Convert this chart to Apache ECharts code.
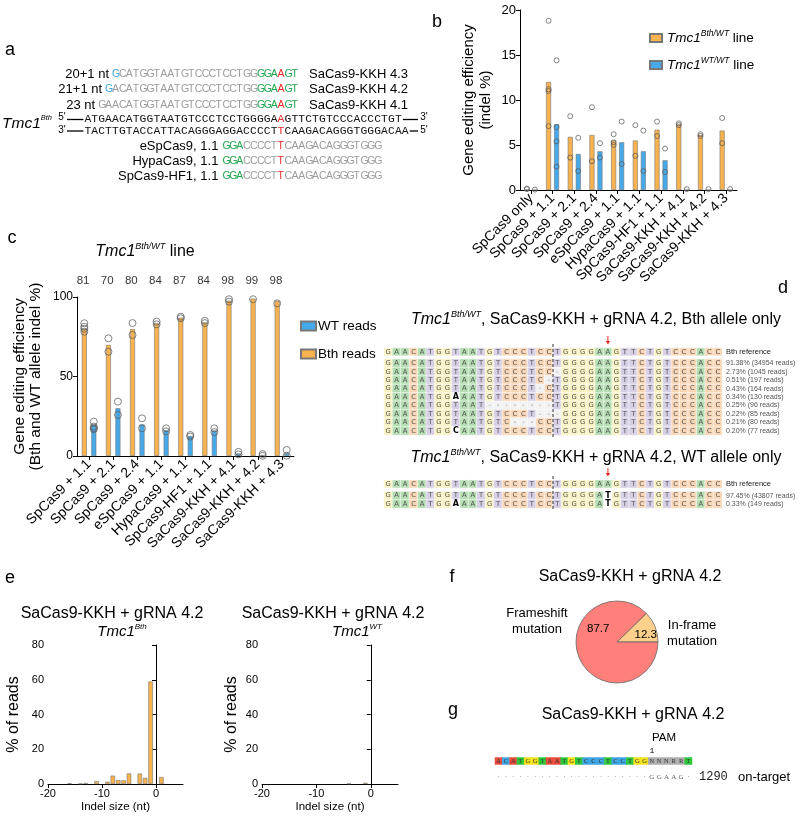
<!DOCTYPE html>
<html>
<head>
<meta charset="utf-8">
<script src="https://cdn.jsdelivr.net/npm/echarts@6.0.0/dist/echarts.min.js"></script>
<style>
html,body{margin:0;padding:0;background:#fff;}
#main{width:800px;height:818px;}
</style>
</head>
<body>
<div id="main"></div>
<script>
// ================= DATA =================
// panel a (sequence annotations)
const aGuideLengths = ['20+1 nt', '21+1 nt', '23 nt'];
const aGuideNames = ['SaCas9-KKH 4.3', 'SaCas9-KKH 4.2', 'SaCas9-KKH 4.1'];
const aGuideSeqs = [
  [['G','b'],['CATGGTAATGTCCCTCCTGG','g'],['GGA','gr'],['A','r'],['GT','gr']],
  [['G','b'],['ACATGGTAATGTCCCTCCTGG','g'],['GGA','gr'],['A','r'],['GT','gr']],
  [['GAACATGGTAATGTCCCTCCTGG','g'],['GGA','gr'],['A','r'],['GT','gr']]
];
const aTopStrand = [['ATGAACATGGTAATGTCCCTCCTGGGGA','k'],['A','r'],['GTTCTGTCCCACCCTGT','k']];
const aBottomStrand = [['TACTTGTACCATTACAGGGAGGACCCCT','k'],['T','r'],['CAAGACAGGGTGGGACAA','k']];
const aSpNames = ['eSpCas9, 1.1', 'HypaCas9, 1.1', 'SpCas9-HF1, 1.1'];
const aSpSeq = [['GGA','gr'],['CCCCT','g'],['T','r'],['CAAGACAGGGTGGG','g']];

// panel b
const bCategories = ['SpCas9 only','SpCas9 + 1.1','SpCas9 + 2.1','SpCas9 + 2.4','eSpCas9 + 1.1','HypaCas9 + 1.1','SpCas9-HF1 + 1.1','SaCas9-KKH + 4.1','SaCas9-KKH + 4.2','SaCas9-KKH + 4.3'];
const bBthMean = [0, 12.0, 5.9, 6.1, 5.5, 5.5, 6.7, 7.3, 6.1, 6.6];
const bWTMean  = [0, 7.3, 4.0, 4.3, 5.3, 4.3, 3.3, 0, 0, 0];
const bBthPoints = [[0.1,0.15],[18.8,11.2,11.0,7.1],[8.2,3.6],[9.2,3.2],[6.2,5.3,5.0],[7.2,3.8],[7.6,6.0],[7.4,7.2],[6.2,6.0],[8.0,5.2]];
const bWTPoints  = [[0.05],[14.4,7.0,5.4,2.6],[5.8,2.1],[5.2,3.6],[7.6,2.9],[6.6,2.1],[4.6,2.0],[0.1],[0.1],[0.1]];

// panel c
const cCategories = ['SpCas9 + 1.1','SpCas9 + 2.1','SpCas9 + 2.4','eSpCas9 + 1.1','HypaCas9 + 1.1','SpCas9-HF1 + 1.1','SaCas9-KKH + 4.1','SaCas9-KKH + 4.2','SaCas9-KKH + 4.3'];
const cBthMean = [80, 69.8, 79.8, 83.6, 87, 84, 97.6, 99, 97.5];
const cWTMean  = [19.5, 30, 19.8, 16.2, 12.6, 16, 1.6, 0.6, 1.5];
const cBthPoints = [[83.5,81.3,80,78.2],[74,65.6],[83.6,76.1],[84.5,82.8],[87.6,86.6],[85.1,83.6],[98.6,97.1],[100.2,98.6],[100.2,96]];
const cWTPoints  = [[21.6,18.5,17.5,16.8],[34.2,25.8],[23.7,17.4],[17.4,15.5],[13.2,12.2],[17.4,15],[2.6,1],[1.2,0.1],[3.8,0.2]];
const cTopLabels = ['81','70','80','84','87','84','98','99','98'];

// panel d
const dRefSeq = 'GAACATGGTAATGTCCCTCCTGGGGAAGTTCTGTCCCACC';
const dBthReads = [
  'GAACATGGTAATGTCCCTCCTGGGGAAGTTCTGTCCCACC',
  'GAACATGGTAATGTCCCTCC-GGGGAAGTTCTGTCCCACC',
  'GAACATGGTAATGTCCCTC-TGGGGAAGTTCTGTCCCACC',
  'GAACATGGTAATGTCCCT-CTGGGGAAGTTCTGTCCCACC',
  'GAACATGGaAATGTCCCTCCTGGGGAAGTTCTGTCCCACC',
  'GAACATGGTAAT--------TGGGGAAGTTCTGTCCCACC',
  'GAACATGGTAATGTCCCT---GGGGAAGTTCTGTCCCACC',
  'GAACATGGTAATGTC---CCTGGGGAAGTTCTGTCCCACC',
  'GAACATGGcAATGTCCCTCCTGGGGAAGTTCTGTCCCACC'
];
const dBthLabels = ['91.38% (34954 reads)','2.73% (1045 reads)','0.51% (197 reads)','0.43% (164 reads)','0.34% (130 reads)','0.25% (96 reads)','0.22% (85 reads)','0.21% (80 reads)','0.20% (77 reads)'];
const dWTReads = [
  'GAACATGGTAATGTCCCTCCTGGGGAtGTTCTGTCCCACC',
  'GAACATGGaAATGTCCCTCCTGGGGAtGTTCTGTCCCACC'
];
const dWTLabels = ['97.45% (43807 reads)','0.33% (149 reads)'];
const dRefLabel = 'Bth reference';

// panel e
const eBthIndel = [-16,-14,-13,-11,-9,-8,-7,-6,-5,-3,-2,-1,1];
const eBthPct   = [0.5,0.3,0.6,1.7,1.3,4.8,2.3,2.1,6.1,6.0,3.5,59,4.0];
const eWTIndel = [-4,-1];
const eWTPct   = [0.3,0.7];
const eTicks = [-20,-10,0];

// panel f
const fNames = ['In-frame mutation','Frameshift mutation'];
const fValues = [12.3, 87.7];

// panel g
const gGuide = 'ACATGGTAATGTCCCTCCTGGNNNRRT';
const gRead  = '.....................GGAAG.';
const gCount = '1290';
const gTag = 'on-target';

// ================= STYLE / BUILD =================
const SANS = 'Liberation Sans';
const MONO = 'Liberation Mono';
const ORANGE = '#F8B34F';
const BLUE = '#46A9E9';
const EDGE = '#777';
const BLACK_LINE = {show:true, lineStyle:{color:'#000', width:1}};
const TICK = {show:true, length:4, lineStyle:{color:'#000', width:1}};

const P = 6.9, XRED = 281;
function richStr(segs){ return segs.map(([s,k]) => s.split('').map(c => '{'+k+'|'+c+'}').join('')).join(''); }
function redIndex(segs){ let n=0; for (const [s,k] of segs){ if (k==='r') return n; n+=s.length; } return 0; }
function segLen(segs){ return segs.reduce((a,[s]) => a+s.length, 0); }
const richSans = {
  g:{fill:'#9c9c9c', fontSize:10.5, fontFamily:SANS, width:P},
  gr:{fill:'#1fa84f', fontSize:10.5, fontFamily:SANS, width:P},
  r:{fill:'#ee2a2a', fontSize:10.5, fontFamily:SANS, width:P},
  b:{fill:'#3ba3df', fontSize:10.5, fontFamily:SANS, width:P}
};
const richMono = {
  k:{fill:'#111', fontSize:11.3, fontFamily:MONO, width:P},
  r:{fill:'#ee2a2a', fontSize:11.3, fontFamily:MONO, width:P}
};
function txt(x, y, text, size, extra){
  return {type:'text', x, y, silent:true, z:50, style:Object.assign({
    text, fontSize:size, fontFamily:SANS, fill:'#000',
    align:'center', verticalAlign:'middle', textAlign:'center', textVerticalAlign:'middle'
  }, extra||{})};
}
function seqEl(segs, y, rich){
  const x0 = XRED - redIndex(segs)*P - 3.4;
  return {x0, x1: x0 + segLen(segs)*P, el: {type:'text', x:x0, y, silent:true, style:{
    text: richStr(segs), rich, align:'left', verticalAlign:'middle', textAlign:'left', textVerticalAlign:'middle'}}};
}
function line(x1,y1,x2,y2,color,dash,w){
  return {type:'line', silent:true, z:50, shape:{x1,y1,x2,y2}, style:{stroke:color||'#000', lineWidth:w||1, lineDash:dash||null}};
}
function supText(x, y, main, sup, rest, size, supSize, align){
  return {type:'text', x, y, silent:true, z:50, style:{
    text: '{i|'+main+'}{s|'+sup+'}' + (rest ? '{n|'+rest+'}' : ''),
    align: align||'center', textAlign: align||'center', verticalAlign:'middle', textVerticalAlign:'middle',
    rich:{
      i:{fontStyle:'italic', fontSize:size, fontFamily:SANS, fill:'#000', lineHeight:size+4},
      s:{fontStyle:'italic', fontSize:supSize, fontFamily:SANS, fill:'#000', verticalAlign:'top'},
      n:{fontSize:size, fontFamily:SANS, fill:'#000', lineHeight:size+4}
    }}};
}

const graphics = [];
// panel letters
[['a',10,50],['b',437,22],['c',12,238],['d',783,288],['e',10,578],['f',452,577],['g',453,710]].forEach(([t,x,y]) => graphics.push(txt(x,y,t,18)));

// panel a
const aY = [74, 89.5, 105];
aGuideSeqs.forEach((segs, i) => {
  const s = seqEl(segs, aY[i], richSans);
  graphics.push(s.el);
  graphics.push(txt(s.x0 - 3, aY[i], aGuideLengths[i], 13, {align:'right', textAlign:'right'}));
  graphics.push(txt(309, aY[i], aGuideNames[i], 13, {align:'left', textAlign:'left'}));
});
const top5 = seqEl(aTopStrand, 119.5, richMono);
const bot3 = seqEl(aBottomStrand, 131, richMono);
graphics.push(top5.el, bot3.el);
graphics.push(supText(2, 124, 'Tmc1', 'Bth', '', 15.5, 7.5, 'left'));
graphics.push(txt(62, 117, "5'", 10));
graphics.push(txt(62, 130, "3'", 10));
graphics.push(line(67, 119.5, top5.x0 - 1, 119.5, '#000', null, 1.3));
graphics.push(line(67, 131, bot3.x0 - 1, 131, '#000', null, 1.3));
graphics.push(line(top5.x1 + 1, 119.5, 418, 119.5, '#000', null, 1.3));
graphics.push(txt(424, 117, "3'", 10));
graphics.push(line(bot3.x1 + 1, 131, 418, 131, '#000', null, 1.3));
graphics.push(txt(424, 130, "5'", 10));
const aSpY = [146.5, 161.5, 176.5];
aSpNames.forEach((n, i) => {
  const s = seqEl(aSpSeq, aSpY[i], richSans);
  graphics.push(s.el);
  graphics.push(txt(s.x0 - 4, aSpY[i], n, 13, {align:'right', textAlign:'right'}));
});

// panel c title
graphics.push(supText(145, 252, 'Tmc1', 'Bth/WT', ' line', 16, 9));
// panel d titles, cut lines & arrows
graphics.push(supText(596, 320, 'Tmc1', 'Bth/WT', ', SaCas9-KKH + gRNA 4.2, Bth allele only', 16, 9));
graphics.push(supText(596, 458, 'Tmc1', 'Bth/WT', ', SaCas9-KKH + gRNA 4.2, WT allele only', 16, 9));
const D_LEFT = 384, D_W = 338, D_CELL = D_W / dRefSeq.length;
const cutX = D_LEFT + 20 * D_CELL, arrowX = D_LEFT + 26.5 * D_CELL;
graphics.push(line(cutX, 344, cutX, 438, '#333', [3,2], 1));
graphics.push(line(cutX, 476, cutX, 510, '#333', [3,2], 1));
[336, 468].forEach(y0 => {
  graphics.push(line(arrowX, y0, arrowX, y0 + 7, '#e8261f', null, 1));
  graphics.push({type:'polygon', silent:true, z:50, shape:{points:[[arrowX-2.2,y0+5],[arrowX+2.2,y0+5],[arrowX,y0+8.5]]}, style:{fill:'#e8261f'}});
});
// panel e titles
graphics.push(txt(112, 614, 'SaCas9-KKH + gRNA 4.2', 16));
graphics.push(supText(122, 632, 'Tmc1', 'Bth', '', 15, 8));
graphics.push(txt(333, 614, 'SaCas9-KKH + gRNA 4.2', 16));
graphics.push(supText(357, 632, 'Tmc1', 'WT', '', 15, 8));
// panel f
graphics.push(txt(630, 577, 'SaCas9-KKH + gRNA 4.2', 16));
graphics.push(txt(537, 621, 'Frameshift\nmutation', 13, {lineHeight:16}));
graphics.push(txt(692, 633, 'In-frame\nmutation', 13, {lineHeight:16}));
// panel g
graphics.push(txt(633, 715, 'SaCas9-KKH + gRNA 4.2', 16));
graphics.push(txt(664, 738, 'PAM', 11.5));
const G_LEFT = 495, G_W = 197, G_CELL = G_W / gGuide.length;
graphics.push(txt(G_LEFT + 21.5 * G_CELL, 751, '1', 8, {fontFamily:MONO}));
graphics.push(txt(699, 777, gCount, 12, {align:'left', textAlign:'left', fontFamily:MONO, fill:'#222'}));
graphics.push(txt(738, 777, gTag, 13, {align:'left', textAlign:'left'}));

// ---- grids
const grids = [
  {left:520, top:10, width:217, height:180},        // 0 b
  {left:77, top:297, width:217, height:159},        // 1 c
  {left:48, top:645, width:135, height:139},        // 2 e left
  {left:262, top:645, width:136, height:139},       // 3 e right
  {left:D_LEFT, top:348, width:D_W, height:7.6},    // 4 d Bth ref
  {left:D_LEFT, top:359.1, width:D_W, height:75.9}, // 5 d Bth reads
  {left:D_LEFT, top:480.2, width:D_W, height:7.6},  // 6 d WT ref
  {left:D_LEFT, top:491.6, width:D_W, height:16.4}, // 7 d WT reads
  {left:G_LEFT, top:757.5, width:G_W, height:7},    // 8 g guide
  {left:G_LEFT, top:773, width:G_W, height:8}       // 9 g read
];

const idx = n => Array.from({length:n}, (_, i) => String(i));
const hiddenCat = (g, n) => ({type:'category', gridIndex:g, data:idx(n), show:false});
const catLabel = {interval:0, rotate:45, fontSize:14, fontFamily:SANS, color:'#000', margin:6};

const xAxis = [
  {type:'category', gridIndex:0, data:bCategories, axisLine:BLACK_LINE, axisTick:Object.assign({alignWithLabel:true}, TICK), axisLabel:catLabel},
  {type:'category', gridIndex:1, data:cCategories, axisLine:BLACK_LINE, axisTick:Object.assign({alignWithLabel:true}, TICK), axisLabel:catLabel},
  {type:'value', gridIndex:2, min:-20, max:5, interval:10, axisLine:BLACK_LINE, axisTick:Object.assign({customValues:eTicks}, TICK),
    axisLabel:{customValues:eTicks, fontSize:11, fontFamily:SANS, color:'#000', margin:4, formatter:v => (v===5?'':String(v))}, splitLine:{show:false},
    name:'Indel size (nt)', nameLocation:'middle', nameGap:17, nameTextStyle:{fontSize:11.5, fontFamily:SANS, color:'#000'}},
  {type:'value', gridIndex:3, min:-20, max:5, interval:10, axisLine:BLACK_LINE, axisTick:Object.assign({customValues:eTicks}, TICK),
    axisLabel:{customValues:eTicks, fontSize:11, fontFamily:SANS, color:'#000', margin:4, formatter:v => (v===5?'':String(v))}, splitLine:{show:false},
    name:'Indel size (nt)', nameLocation:'middle', nameGap:17, nameTextStyle:{fontSize:11.5, fontFamily:SANS, color:'#000'}},
  hiddenCat(4, 40), hiddenCat(5, 40), hiddenCat(6, 40), hiddenCat(7, 40),
  hiddenCat(8, gGuide.length), hiddenCat(9, gRead.length)
];
const valY = (g, max, interval, name, gap, size, lh, labelSize) => ({
  type:'value', gridIndex:g, min:0, max, interval, axisLine:BLACK_LINE, axisTick:TICK, splitLine:{show:false},
  axisLabel:{fontSize:labelSize, fontFamily:SANS, color:'#000', margin:4},
  name, nameLocation:'middle', nameGap:gap, nameTextStyle:{fontSize:size, fontFamily:SANS, color:'#000', lineHeight:lh}
});
const rowY = (g, labels, size, color) => ({
  type:'category', gridIndex:g, data:labels, inverse:true, position:'right',
  axisLine:{show:false}, axisTick:{show:false},
  axisLabel:{interval:0, fontSize:size, fontFamily:SANS, color, margin:4}
});
const yAxis = [
  valY(0, 20, 5, 'Gene editing efficiency\n(indel %)', 26, 15, 17, 13),
  valY(1, 100, 50, 'Gene editing efficiency\n(Bth and WT allele indel %)', 33, 15.5, 16.5, 12),
  valY(2, 80, 20, '% of reads', 25, 16, 18, 11),
  valY(3, 80, 20, '% of reads', 21, 16, 18, 11),
  rowY(4, [dRefLabel], 7.5, '#222'),
  rowY(5, dBthLabels, 7, '#555'),
  rowY(6, [dRefLabel], 7.5, '#222'),
  rowY(7, dWTLabels, 7, '#555'),
  {type:'category', gridIndex:8, data:[''], show:false},
  {type:'category', gridIndex:9, data:[''], show:false}
];

// ---- series
const series = [];
const barStyle = c => ({color:c, borderColor:EDGE, borderWidth:0.6});
const pointStyle = {color:'rgba(255,255,255,0)', borderColor:'#555', borderWidth:0.9};
function pts(arr){ const out=[]; arr.forEach((vals,i) => vals.forEach(v => out.push([i, v]))); return out; }

// b
series.push({name:'bBth', type:'bar', xAxisIndex:0, yAxisIndex:0, data:bBthMean, barWidth:5, barGap:'60%', itemStyle:barStyle(ORANGE)});
series.push({name:'bWT', type:'bar', xAxisIndex:0, yAxisIndex:0, data:bWTMean, barWidth:5, itemStyle:barStyle(BLUE)});
series.push({name:'bBthPts', type:'scatter', xAxisIndex:0, yAxisIndex:0, data:pts(bBthPoints), symbol:'circle', symbolSize:5, symbolOffset:[-4,0], itemStyle:pointStyle, z:5});
series.push({name:'bWTPts', type:'scatter', xAxisIndex:0, yAxisIndex:0, data:pts(bWTPoints), symbol:'circle', symbolSize:5, symbolOffset:[4,0], itemStyle:pointStyle, z:5});
// c  (Bth bars on the left, WT bars on the right)
series.push({name:'Bth reads', type:'bar', xAxisIndex:1, yAxisIndex:1, data:cBthMean, barWidth:5, barGap:'90%', itemStyle:barStyle(ORANGE)});
series.push({name:'WT reads', type:'bar', xAxisIndex:1, yAxisIndex:1, data:cWTMean, barWidth:5, itemStyle:barStyle(BLUE)});
series.push({name:'cBthPts', type:'scatter', xAxisIndex:1, yAxisIndex:1, data:pts(cBthPoints), symbolSize:7, symbolOffset:[-4.75,0], itemStyle:pointStyle, z:5});
series.push({name:'cWTPts', type:'scatter', xAxisIndex:1, yAxisIndex:1, data:pts(cWTPoints), symbolSize:7, symbolOffset:[4.75,0], itemStyle:pointStyle, z:5});
series.push({name:'cTop', type:'scatter', xAxisIndex:1, yAxisIndex:1, data:cTopLabels.map((t,i) => ({value:[i,100], name:t})), symbolSize:1,
  itemStyle:{color:'rgba(0,0,0,0)'}, label:{show:true, position:'top', distance:10, offset:[-6,0], formatter:'{b}', fontSize:11.5, fontFamily:SANS, color:'#000'}, silent:true});
// e
series.push({name:'eBth', type:'bar', xAxisIndex:2, yAxisIndex:2, data:eBthIndel.map((x,i) => [x, eBthPct[i]]), barWidth:4.5, itemStyle:barStyle(ORANGE)});
series.push({name:'eWT', type:'bar', xAxisIndex:3, yAxisIndex:3, data:eWTIndel.map((x,i) => [x, eWTPct[i]]), barWidth:4.5, itemStyle:barStyle(ORANGE)});
// f
const fColors = ['#FDD08C', '#FF7F7A'];
const fLabelOffsets = [[7,2],[3,-22]];
series.push({name:'fPie', type:'pie', center:[617,642], radius:41, startAngle:44.28, clockwise:true, silent:true,
  data:fNames.map((n,i) => ({name:n, value:fValues[i], itemStyle:{color:fColors[i]}, label:{offset:fLabelOffsets[i]}})),
  itemStyle:{borderColor:'#666', borderWidth:0.8},
  label:{show:true, position:'inside', formatter:'{c}', fontSize:11.5, fontFamily:SANS, color:'#000'},
  labelLine:{show:false}, emphasis:{disabled:true}});
// d heatmaps
const dColors = {A:'#B4DDB1', C:'#F9D6B6', G:'#F8F2C2', T:'#D7CFE6', '-':'#F2F2F2'};
function dHeat(rows, g){
  const data = [];
  rows.forEach((s, r) => s.split('').forEach((ch, i) => {
    const up = ch.toUpperCase(); const sub = ch !== up;
    const item = {name:up, value:[i, r, 1], itemStyle:{color: sub ? '#FFFFFF' : dColors[up]}};
    if (sub) item.label = {fontWeight:'bold', color:'#000', fontSize:8};
    else if (up === '-') item.label = {color:'#999'};
    data.push(item);
  }));
  return {type:'heatmap', xAxisIndex:g, yAxisIndex:g, data, silent:true,
    itemStyle:{borderColor:'#fff', borderWidth:0.5},
    label:{show:true, formatter:p => p.name, fontSize:6.8, color:'#555', fontFamily:'DejaVu Sans'},
    emphasis:{disabled:true}};
}
series.push(dHeat([dRefSeq], 4), dHeat(dBthReads, 5), dHeat([dRefSeq], 6), dHeat(dWTReads, 7));
// g heatmaps
const gColors = {A:'#E84C3D', C:'#3EA6E2', G:'#F3E21C', T:'#2EC73B', N:'#AEAEAE', R:'#AEAEAE'};
series.push({type:'heatmap', xAxisIndex:8, yAxisIndex:8, silent:true, emphasis:{disabled:true},
  data:gGuide.split('').map((ch,i) => ({name:ch, value:[i,0,1], itemStyle:{color:gColors[ch]}})),
  label:{show:true, formatter:p => p.name, fontSize:6.5, color:'#333', fontFamily:'Liberation Serif'}});
series.push({type:'heatmap', xAxisIndex:9, yAxisIndex:9, silent:true, emphasis:{disabled:true},
  data:gRead.split('').map((ch,i) => ({name: ch === '.' ? '·' : ch, value:[i,0,1], itemStyle:{color:'rgba(255,255,255,0)'}})),
  label:{show:true, formatter:p => p.name, fontSize:7, color:'#666', fontFamily:'Liberation Serif'}});

// legends
const legendRich = {
  i:{fontStyle:'italic', fontSize:13.5, fontFamily:SANS, color:'#000', lineHeight:18},
  s:{fontStyle:'italic', fontSize:8.5, fontFamily:SANS, color:'#000', verticalAlign:'top'},
  n:{fontSize:13.5, fontFamily:SANS, color:'#000', lineHeight:18}
};
const legend = [
  {data:['bBth','bWT'], left:644, top:24, orient:'vertical', icon:'rect', itemWidth:12, itemHeight:8, itemGap:11, selectedMode:false,
   formatter:n => n === 'bBth' ? '{i|Tmc1}{s|Bth/WT}{n| line}' : '{i|Tmc1}{s|WT/WT}{n| line}',
   textStyle:{fontSize:13.5, fontFamily:SANS, color:'#000', rich:legendRich}},
  {data:['WT reads','Bth reads'], left:295, top:314, orient:'vertical', icon:'rect', itemWidth:15, itemHeight:9, itemGap:14, selectedMode:false,
   textStyle:{fontSize:13.5, fontFamily:SANS, color:'#000', padding:[0,0,0,-3]}}
];

const chart = echarts.init(document.getElementById('main'), null, {renderer:'canvas', width:800, height:818});
chart.setOption({
  backgroundColor:'#fff',
  animation:false,
  textStyle:{fontFamily:SANS},
  grid:grids, xAxis, yAxis, series, legend,
  graphic:{elements:graphics}
});
</script>
</body>
</html>
